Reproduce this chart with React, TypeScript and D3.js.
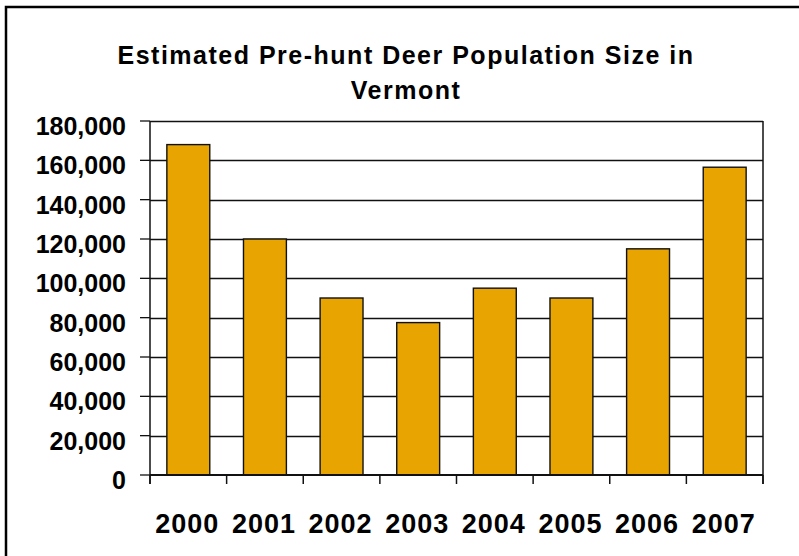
import React, { useEffect, useRef } from "react";
import * as d3 from "d3";

const years = ["2000", "2001", "2002", "2003", "2004", "2005", "2006", "2007"];
const population = [168000, 120000, 90000, 77500, 95000, 90000, 115000, 156500];
const yTicks = [0, 20000, 40000, 60000, 80000, 100000, 120000, 140000, 160000, 180000];
const titleLines = ["Estimated Pre-hunt Deer Population Size in", "Vermont"];

const W = 799;
const H = 556;
const FONT = "'Liberation Sans', Arial, sans-serif";

export default function App() {
  const ref = useRef<SVGSVGElement>(null);

  useEffect(() => {
    const svg = d3.select(ref.current);
    svg.selectAll("*").remove();

    const left = 150, right = 763, top = 121, bottom = 475;

    const x = d3.scaleBand<string>().domain(years).range([left, right]).paddingInner(0.44).paddingOuter(0.22);
    const y = d3.scaleLinear().domain([0, 180000]).range([bottom, top]);

    svg.append("rect").attr("x", 0).attr("y", 0).attr("width", W).attr("height", H).attr("fill", "#fff");
    // outer frame
    svg.append("rect").attr("x", 6).attr("y", 7).attr("width", W + 20).attr("height", H + 20)
      .attr("fill", "none").attr("stroke", "#000").attr("stroke-width", 2.5);

    // title
    svg.append("g").selectAll("text").data(titleLines).join("text")
      .attr("x", 406).attr("y", (_d, i) => 64 + i * 35)
      .attr("text-anchor", "middle")
      .attr("font-family", FONT).attr("font-weight", "bold").attr("font-size", 25)
      .attr("letter-spacing", 1.5)
      .text(d => d);

    // gridlines
    svg.append("g").selectAll("line").data(yTicks.filter(t => t > 0)).join("line")
      .attr("x1", left).attr("x2", right)
      .attr("y1", d => Math.round(y(d)) + 0.5).attr("y2", d => Math.round(y(d)) + 0.5)
      .attr("stroke", "#111").attr("stroke-width", 1.3);

    // right border
    svg.append("line").attr("x1", right).attr("x2", right).attr("y1", top).attr("y2", bottom + 9)
      .attr("stroke", "#111").attr("stroke-width", 1.5);

    // bars
    svg.append("g").selectAll("rect").data(years).join("rect")
      .attr("x", d => x(d)!)
      .attr("y", (_d, i) => y(population[i]))
      .attr("width", x.bandwidth())
      .attr("height", (_d, i) => bottom - y(population[i]))
      .attr("fill", "#E8A400").attr("stroke", "#111").attr("stroke-width", 1.4);

    // y axis line
    svg.append("line").attr("x1", left).attr("x2", left).attr("y1", top).attr("y2", bottom + 9)
      .attr("stroke", "#111").attr("stroke-width", 1.5);
    // y ticks
    svg.append("g").selectAll("line").data(yTicks).join("line")
      .attr("x1", left - 10).attr("x2", left)
      .attr("y1", d => y(d)).attr("y2", d => y(d))
      .attr("stroke", "#111").attr("stroke-width", 1.3);
    // zero line
    svg.append("line").attr("x1", left).attr("x2", right).attr("y1", bottom).attr("y2", bottom)
      .attr("stroke", "#111").attr("stroke-width", 2);
    // x ticks at category boundaries
    const step = x.step();
    const bounds = d3.range(years.length + 1).map(i => left + i * step);
    svg.append("g").selectAll("line").data(bounds).join("line")
      .attr("x1", d => d).attr("x2", d => d).attr("y1", bottom).attr("y2", bottom + 9)
      .attr("stroke", "#111").attr("stroke-width", 1.5);

    const fmt = d3.format(",");
    svg.append("g").selectAll("text").data(yTicks).join("text")
      .attr("x", 126).attr("y", d => y(d) + 14)
      .attr("text-anchor", "end")
      .attr("font-family", FONT).attr("font-weight", "bold").attr("font-size", 25)
      .text(d => fmt(d));

    svg.append("g").selectAll("text").data(years).join("text")
      .attr("x", d => x(d)! + x.bandwidth() / 2 - 1).attr("y", 533)
      .attr("text-anchor", "middle")
      .attr("font-family", FONT).attr("font-weight", "bold").attr("font-size", 27)
      .attr("letter-spacing", 1)
      .text(d => d);
  }, []);

  return <svg ref={ref} width={W} height={H} style={{ position: "absolute", left: 0, top: 0 }} />;
}
